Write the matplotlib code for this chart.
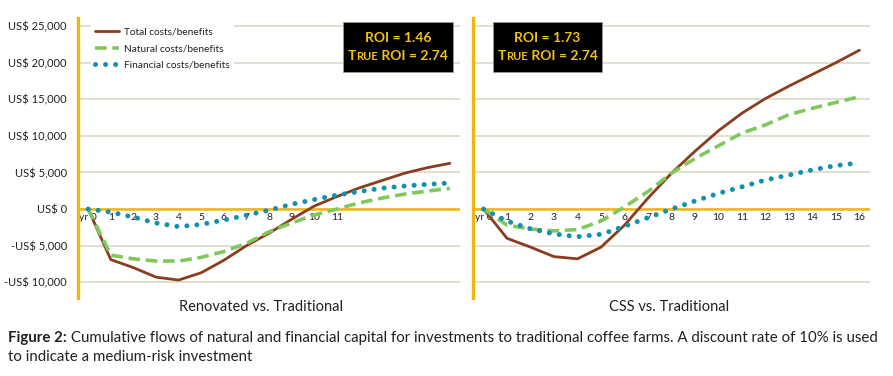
import numpy as np
import matplotlib
matplotlib.use("Agg")
import matplotlib.pyplot as plt
from matplotlib.patches import Rectangle
from matplotlib.offsetbox import TextArea, HPacker, VPacker, AnnotationBbox

plt.rcParams['font.family'] = ['Lato', 'DejaVu Sans']

years = list(range(17))

# Renovated vs. Traditional, cumulative US$
reno_total = [0, -6900, -8000, -9300, -9700, -8700, -7000, -5000, -3300, -1400, 400,
              1700, 2900, 3900, 4900, 5650, 6250]
reno_natural = [0, -6300, -6800, -7100, -7100, -6600, -5800, -4700, -3100, -1900, -800,
                0, 850, 1500, 2050, 2450, 2830]
reno_financial = [0, -420, -1100, -1900, -2400, -2100, -1500, -850, -150, 650, 1300,
                  1900, 2400, 2850, 3150, 3380, 3550]

# CSS vs. Traditional, cumulative US$
css_total = [0, -4000, -5200, -6500, -6800, -5200, -2200, 1500, 4900, 7900, 10700,
             13100, 15100, 16800, 18400, 20000, 21700]
css_natural = [0, -2200, -2730, -2980, -2800, -1640, 300, 2400, 4900, 6900, 8650,
               10380, 11500, 12900, 13770, 14570, 15350]
css_financial = [0, -1650, -2700, -3400, -3780, -3450, -2350, -1170, 0, 1100, 2150,
                 3040, 3970, 4650, 5350, 5940, 6320]

reno_roi = ("1.46", "2.74")
css_roi = ("1.73", "2.74")

yticks = [25000, 20000, 15000, 10000, 5000, 0, -5000, -10000]
ytick_labels = ["US$ 25,000", "US$ 20,000", "US$ 15,000", "US$ 10,000", "US$ 5,000",
                "US$ 0", "-US$ 5,000", "-US$ 10,000"]
reno_xticks = list(range(12))
css_xticks = list(range(17))

series_names = ["Total costs/benefits", "Natural costs/benefits", "Financial costs/benefits"]

BROWN = '#8a3d1e'
GREEN = '#80c75c'
TEAL = '#1290b0'
YELLOW = '#efb70a'
GOLD = '#f3c112'
GRID = '#deddca'
INK = '#231f20'


def style_axes(ax, xticks, show_y):
    ax.set_xlim(-0.45, 16.45)
    ax.set_ylim(-12150, 26100)
    for s in ['top', 'right']:
        ax.spines[s].set_visible(False)
    ax.spines['bottom'].set_position(('data', 0))
    ax.spines['bottom'].set_visible(False)
    ax.spines['left'].set_color(YELLOW)
    ax.spines['left'].set_linewidth(2.4)
    ax.set_yticks(yticks)
    ax.set_yticklabels(ytick_labels if show_y else [])
    ax.yaxis.grid(True, color=GRID, lw=1.3)
    ax.set_axisbelow(True)
    ax.axhline(0, color=YELLOW, lw=1.8, zorder=1.5)
    ax.set_xticks(xticks)
    ax.set_xticklabels(["yr 0"] + [str(x) for x in xticks[1:]])
    ax.tick_params(axis='x', length=0, pad=3, labelsize=7.5, labelcolor=INK)
    ax.tick_params(axis='y', length=0, pad=8, labelsize=8, labelcolor=INK)


def plot_series(ax, total, natural, financial):
    ax.plot(years, total, color=BROWN, lw=2.0, solid_capstyle='round', zorder=3,
            label=series_names[0])
    ax.plot(years, natural, color=GREEN, lw=2.6, dashes=(3.2, 1.6), zorder=3,
            label=series_names[1])
    ax.plot(years, financial, color=TEAL, lw=3.6, linestyle=(0, (0.01, 2.0)),
            dash_capstyle='round', zorder=3, label=series_names[2])


def roi_box(ax, roi, true_roi, x0, x1):
    ax.add_patch(Rectangle((x0, 0.807), x1 - x0, 0.179, transform=ax.transAxes,
                           facecolor='black', edgecolor='#999999', lw=0.6, zorder=5))
    big = dict(color=GOLD, fontsize=10, fontweight='bold')
    small = dict(color=GOLD, fontsize=8, fontweight='bold')
    line1 = TextArea(f"ROI = {roi}", textprops=big)
    line2 = HPacker(children=[TextArea("T", textprops=big), TextArea("RUE", textprops=small),
                              TextArea(f" ROI = {true_roi}", textprops=big)],
                    align='baseline', pad=0, sep=0)
    box = VPacker(children=[line1, line2], align='center', pad=0, sep=4)
    ab = AnnotationBbox(box, ((x0 + x1) / 2, 0.8965), xycoords='axes fraction',
                        box_alignment=(0.5, 0.5), frameon=False, zorder=6)
    ax.add_artist(ab)


fig = plt.figure(figsize=(8.93, 3.76), dpi=100)
ax1 = fig.add_axes([78 / 893, 78 / 376, 382 / 893, 280 / 376])
ax2 = fig.add_axes([473 / 893, 78 / 376, 397 / 893, 280 / 376])

style_axes(ax1, reno_xticks, True)
style_axes(ax2, css_xticks, False)
plot_series(ax1, reno_total, reno_natural, reno_financial)
plot_series(ax2, css_total, css_natural, css_financial)

roi_box(ax1, *reno_roi, 0.694, 0.982)
roi_box(ax2, *css_roi, 0.050, 0.325)

leg = ax1.legend(loc='upper left', bbox_to_anchor=(0.02, 0.998), fontsize=7.3,
                 frameon=True, facecolor='white', edgecolor='none', framealpha=1,
                 handlelength=2.4, labelspacing=0.72, borderpad=0.4, handletextpad=0.5)
leg.set_zorder(4)
for t in leg.get_texts():
    t.set_color(INK)

fig.text(261 / 893, 69 / 376, "Renovated vs. Traditional", ha='center', va='center',
         fontsize=10.5, color=INK)
fig.text(669 / 893, 69 / 376, "CSS vs. Traditional", ha='center', va='center',
         fontsize=10.5, color=INK)

cap = HPacker(children=[
    TextArea("Figure 2:", textprops=dict(fontsize=10.8, fontweight='bold', color=INK)),
    TextArea(" Cumulative flows of natural and financial capital for investments to "
             "traditional coffee farms. A discount rate of 10% is used",
             textprops=dict(fontsize=10.8, color=INK))],
    align='baseline', pad=0, sep=0)
fig.add_artist(AnnotationBbox(cap, (8 / 893, 38 / 376), xycoords='figure fraction',
                              box_alignment=(0, 0.5), frameon=False))
fig.text(8 / 893, 19 / 376, "to indicate a medium-risk investment", ha='left',
         va='center', fontsize=10.8, color=INK)

fig.savefig("out.png", dpi=100)
